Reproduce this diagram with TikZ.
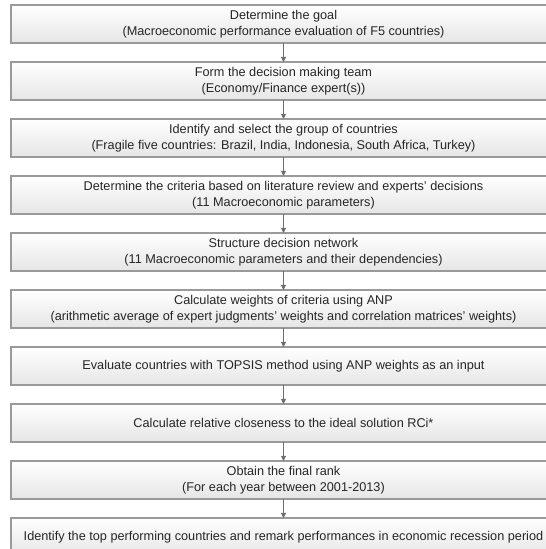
\documentclass[tikz,border=0pt]{standalone}
\usepackage{fontspec}
\setmainfont{Liberation Sans}
\usepackage{xcolor}
\definecolor{boxline}{HTML}{9A9A9A}
\definecolor{boxfill}{HTML}{F1F1F1}
\definecolor{arrowline}{HTML}{6E6E6E}
\definecolor{inktext}{HTML}{262626}
\usetikzlibrary{arrows.meta, positioning}

\begin{document}
\begin{tikzpicture}[x=1pt, y=1pt, >={Triangle[length=5pt, width=5pt]}]
  \useasboundingbox (0,0) rectangle (546,549);
  \clip (0,0) rectangle (546,549);
  \tikzset{
    stepbox/.style={draw=boxline, line width=1.1pt, outer sep=0pt,
      top color=white, bottom color=boxfill!90!gray,
      minimum width=545pt, minimum height=38pt, inner sep=2pt,
      align=center, text=inktext, font=\fontsize{12.7}{15.5}\selectfont},
    flow/.style={->, draw=arrowline, fill=arrowline, line width=0.9pt}
  }

  \node[stepbox] (goal) at (283.5,525)
    {Determine the goal\\(Macroeconomic performance evaluation of F5 countries)};
  \node[stepbox, below=19pt of goal] (team)
    {Form the decision making team\\(Economy/Finance expert(s))};
  \node[stepbox, below=19pt of team] (group)
    {Identify and select the group of countries\\(Fragile five countries: Brazil, India, Indonesia, South Africa, Turkey)};
  \node[stepbox, below=19pt of group] (criteria)
    {Determine the criteria based on literature review and experts' decisions\\(11 Macroeconomic parameters)};
  \node[stepbox, below=19pt of criteria] (network)
    {Structure decision network\\(11 Macroeconomic parameters and their dependencies)};
  \node[stepbox, below=19pt of network] (weights)
    {Calculate weights of criteria using ANP\\(arithmetic average of expert judgments' weights and correlation matrices' weights)};
  \node[stepbox, below=19pt of weights] (topsis)
    {Evaluate countries with TOPSIS method using ANP weights as an input};
  \node[stepbox, below=19pt of topsis] (closeness)
    {Calculate relative closeness to the ideal solution RCi*};
  \node[stepbox, below=19pt of closeness] (rank)
    {Obtain the final rank\\(For each year between 2001-2013)};
  \node[stepbox, below=19pt of rank] (top)
    {Identify the top performing countries and remark performances in economic recession period};

  \draw[flow] (goal) -- (team);
  \draw[flow] (team) -- (group);
  \draw[flow] (group) -- (criteria);
  \draw[flow] (criteria) -- (network);
  \draw[flow] (network) -- (weights);
  \draw[flow] (weights) -- (topsis);
  \draw[flow] (topsis) -- (closeness);
  \draw[flow] (closeness) -- (rank);
  \draw[flow] (rank) -- (top);
\end{tikzpicture}
\end{document}
